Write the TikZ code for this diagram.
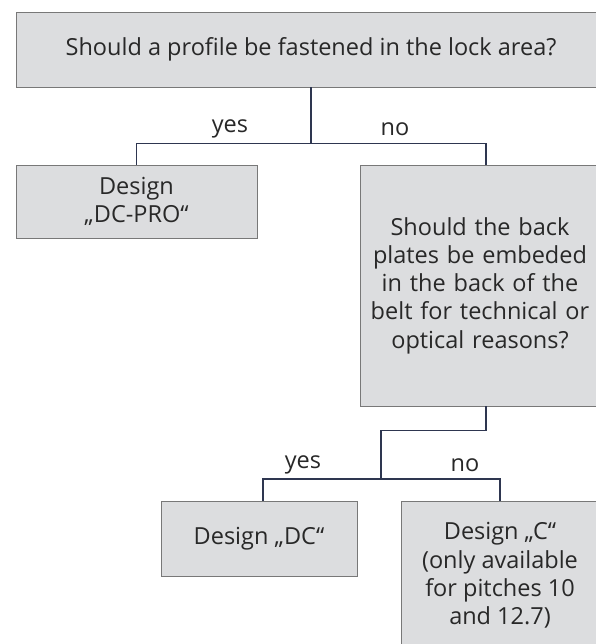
\documentclass[tikz,border=0pt]{standalone}
\usepackage{fontspec}
\setmainfont{Open Sans}
\definecolor{boxgray}{RGB}{220, 221, 223}
\definecolor{edgegray}{RGB}{120, 120, 120}
\definecolor{linenavy}{RGB}{46, 54, 80}
\definecolor{textdark}{RGB}{40, 40, 40}
\usetikzlibrary{positioning, calc}

\begin{document}
\begin{tikzpicture}[x=1pt, y=1pt,
  qbox/.style={draw=edgegray, fill=boxgray, line width=0.8pt, inner sep=2pt,
               font=\fontsize{23.5}{28.3}\selectfont, text=textdark, align=center},
  conn/.style={draw=linenavy, line width=1.5pt},
  lbl/.style={font=\fontsize{23.5}{28}\selectfont, text=textdark},
]
\useasboundingbox (0,0) rectangle (595,-644);
% Questions
\node[qbox, minimum width=590pt, minimum height=75pt] (q1) at (311,-49.5)
  {Should a profile be fastened in the lock area?};
\node[qbox, minimum width=240pt, minimum height=241pt, text width=236pt] (q2) at (480,-285.5)
  {Should the back\\plates be embeded\\in the back of the\\belt for technical or\\optical reasons?};

% Designs
\node[qbox, minimum width=241pt, minimum height=73pt] (dcpro) at (136.5,-201.5)
  {Design\\„DC-PRO“};
\node[qbox, minimum width=196pt, minimum height=75pt] (dc) at (259,-538.5)
  {Design „DC“};
\node[qbox, minimum width=198pt, minimum height=149pt] (c) at (500,-575.5)
  {Design „C“\\(only available\\for pitches 10\\and 12.7)};

% First branch
\draw[conn] (q1.south) -- ++(0,-56) coordinate (j1);
\draw[conn] (j1) -| (dcpro.north);
\draw[conn] (j1) -| ($(q2.north)+(6,0)$);
\node[lbl] (yes1) at (230,-129) {yes};
\node[lbl] (no1) at (395,-129) {no};

% Second branch
\coordinate (j2) at (381,-479);
\draw[conn] ($(q2.south)+(6,0)$) -- ++(0,-24) -| (j2);
\draw[conn] (j2) -| ($(dc.north)+(4,0)$);
\draw[conn] (j2) -| (c.north);
\node[lbl] (yes2) at (303,-465) {yes};
\node[lbl] (no2) at (465,-465) {no};
\end{tikzpicture}
\end{document}
